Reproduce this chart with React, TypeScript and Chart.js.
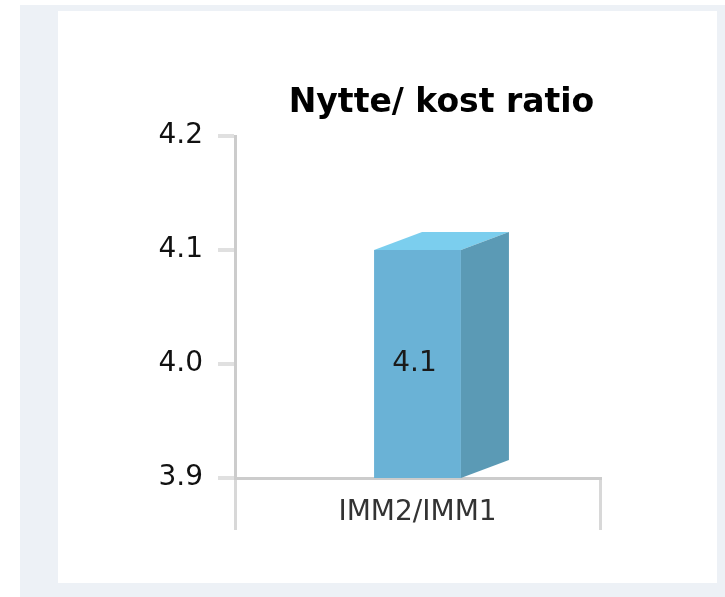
import React, { useEffect, useRef } from 'react';
import { Chart, registerables } from 'chart.js';

Chart.register(...registerables);

const categories = ['IMM2/IMM1'];
const values = [4.1];
const yTicks = [3.9, 4.0, 4.1, 4.2];
const titleText = 'Nytte/ kost ratio';

const DX = 48;
const DY = 18;
const FONT = '"DejaVu Sans", Verdana, sans-serif';

const bar3d = {
  id: 'bar3d',
  afterDatasetsDraw(chart: any) {
    const ctx = chart.ctx;
    const ca = chart.chartArea;
    const meta = chart.getDatasetMeta(0);
    meta.data.forEach((el: any, i: number) => {
      const p = el.getProps(['x', 'y', 'base', 'width'], true);
      const x = p.x;
      const y = p.y;
      const width = p.width;
      const base = Math.min(p.base, ca.bottom);
      const l = x - width / 2;
      const r = x + width / 2;
      ctx.save();
      ctx.fillStyle = '#7bceee';
      ctx.beginPath();
      ctx.moveTo(l, y);
      ctx.lineTo(l + DX, y - DY);
      ctx.lineTo(r + DX, y - DY);
      ctx.lineTo(r, y);
      ctx.closePath();
      ctx.fill();
      ctx.fillStyle = '#5b9ab5';
      ctx.beginPath();
      ctx.moveTo(r, y);
      ctx.lineTo(r + DX, y - DY);
      ctx.lineTo(r + DX, base - DY);
      ctx.lineTo(r, base);
      ctx.closePath();
      ctx.fill();
      ctx.fillStyle = '#1a1a1a';
      ctx.font = '28px ' + FONT;
      ctx.textAlign = 'center';
      ctx.textBaseline = 'middle';
      ctx.fillText(values[i].toFixed(1), x - 3, (y + base) / 2);
      ctx.restore();
    });
    ctx.save();
    ctx.fillStyle = '#000';
    ctx.font = 'bold 33px ' + FONT;
    ctx.textAlign = 'center';
    ctx.textBaseline = 'alphabetic';
    ctx.fillText(titleText, (ca.left + ca.right + DX) / 2, ca.top - 24);
    ctx.restore();
  },
};

export default function App() {
  const ref = useRef<HTMLCanvasElement>(null);
  useEffect(() => {
    if (!ref.current) return;
    const chart = new Chart(ref.current, {
      type: 'bar',
      data: {
        labels: categories,
        datasets: [
          {
            data: values,
            backgroundColor: '#6ab2d6',
            borderWidth: 0,
            barPercentage: 0.238,
            categoryPercentage: 1,
          },
        ],
      },
      options: {
        animation: false,
        responsive: false,
        maintainAspectRatio: false,
        layout: { padding: { top: 136, left: 100, right: 125, bottom: 59 } },
        plugins: { legend: { display: false }, tooltip: { enabled: false }, title: { display: false } },
        scales: {
          x: {
            offset: true,
            afterFit: (s: any) => { s.height = 60; },
            grid: {
              offset: true,
              drawOnChartArea: false,
              drawTicks: true,
              tickLength: 52,
              color: '#d8d8d8',
              lineWidth: 3,
            },
            border: { display: true, color: '#cccccc', width: 3 },
            ticks: {
              padding: -34,
              color: '#333333',
              font: { family: FONT, size: 28 },
            },
          },
          y: {
            min: 3.9,
            max: 4.2,
            afterFit: (s: any) => { s.width = 135; },
            afterBuildTicks: (s: any) => { s.ticks = yTicks.map((v) => ({ value: v })); },
            grid: {
              drawOnChartArea: false,
              drawTicks: true,
              tickLength: 17,
              color: '#e0e0e0',
              lineWidth: 4,
            },
            border: { display: true, color: '#cccccc', width: 3 },
            ticks: {
              padding: 15,
              color: '#111111',
              font: { family: FONT, size: 28 },
              callback: (v: any) => Number(v).toFixed(1),
            },
          },
        },
      },
      plugins: [bar3d],
    });
    return () => chart.destroy();
  }, []);

  return (
    <div style={{ position: 'fixed', left: 0, top: 0, width: 725, height: 597, background: '#ffffff', overflow: 'hidden' }}>
      <div style={{ position: 'absolute', left: 20, top: 5, right: 0, bottom: 0, background: '#edf1f6' }} />
      <div style={{ position: 'absolute', left: 58, top: 11, width: 659, height: 572, background: '#ffffff' }} />
      <canvas ref={ref} width={725} height={597} style={{ position: 'absolute', left: 0, top: 0, display: 'block' }} />
    </div>
  );
}
